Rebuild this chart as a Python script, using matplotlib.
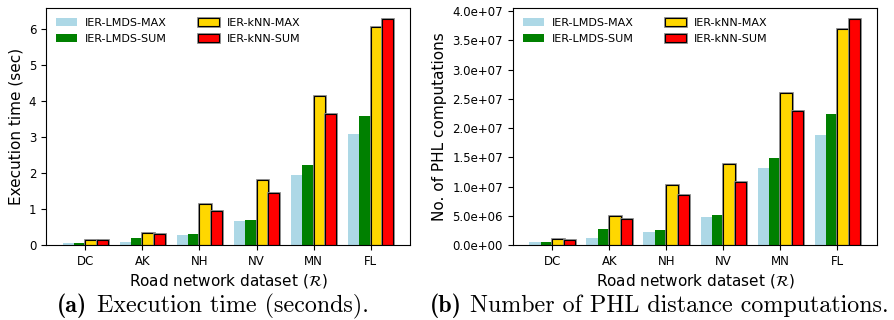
import matplotlib
matplotlib.use("Agg")
import matplotlib.pyplot as plt
import matplotlib.patheffects as pe
import numpy as np

datasets = ["DC", "AK", "NH", "NV", "MN", "FL"]
series_names = ["IER-LMDS-MAX", "IER-LMDS-SUM", "IER-kNN-MAX", "IER-kNN-SUM"]
colors = ["lightblue", "green", "gold", "red"]

time_lmds_max = [0.05, 0.10, 0.27, 0.66, 1.95, 3.09]
time_lmds_sum = [0.07, 0.21, 0.30, 0.71, 2.23, 3.59]
time_knn_max = [0.15, 0.35, 1.15, 1.82, 4.13, 6.06]
time_knn_sum = [0.14, 0.31, 0.96, 1.45, 3.64, 6.27]

phl_lmds_max = [0.45e6, 1.3e6, 2.16e6, 4.89e6, 13.2e6, 18.86e6]
phl_lmds_sum = [0.45e6, 2.67e6, 2.5e6, 5.23e6, 14.9e6, 22.46e6]
phl_knn_max = [1.02e6, 4.94e6, 10.34e6, 13.9e6, 26.06e6, 36.86e6]
phl_knn_sum = [0.91e6, 4.38e6, 8.52e6, 10.85e6, 22.86e6, 38.6e6]

fig = plt.figure(figsize=(8.95, 3.2), dpi=100)
ax1 = fig.add_axes([0.0514, 0.234, 0.4067, 0.741])
ax2 = fig.add_axes([0.573, 0.234, 0.4067, 0.741])

x = np.arange(len(datasets))
w = 0.2
shadow = [pe.Stroke(linewidth=2.0, foreground="#8a8a8a"), pe.Normal()]


def draw(ax, series, ylabel):
    for i, (vals, c, name) in enumerate(zip(series, colors, series_names)):
        if i >= 2:
            bars = ax.bar(x + (i - 1.5) * w, vals, w, color=c, edgecolor="black",
                          linewidth=0.8, label=name)
            for b in bars:
                b.set_path_effects(shadow)
        else:
            ax.bar(x + (i - 1.5) * w, vals, w, color=c, label=name)
    ax.set_xticks(x)
    ax.set_xticklabels(datasets, fontsize=8.5)
    ax.tick_params(axis="y", labelsize=8.5)
    ax.set_xlabel(r"Road network dataset ($\mathcal{R}$)", fontsize=11, labelpad=3)
    ax.set_ylabel(ylabel, fontsize=11)
    ax.legend(ncol=2, frameon=False, loc="upper left", fontsize=8,
              handlelength=1.9, handleheight=0.65, columnspacing=2.8,
              handletextpad=0.7, borderaxespad=0.5, labelspacing=0.55)


draw(ax1, [time_lmds_max, time_lmds_sum, time_knn_max, time_knn_sum],
     "Execution time (sec)")
draw(ax2, [phl_lmds_max, phl_lmds_sum, phl_knn_max, phl_knn_sum],
     "No. of PHL computations")
ax2.yaxis.set_major_formatter(matplotlib.ticker.FormatStrFormatter("%.1e"))

fig.text(0.064, 0.024, "(a)", fontsize=17.3, family="cmb10", ha="left", va="baseline")
fig.text(0.108, 0.024, "Execution time (seconds).", fontsize=17.3, family="cmr10",
         ha="left", va="baseline")
fig.text(0.480, 0.024, "(b)", fontsize=17.3, family="cmb10", ha="left", va="baseline")
fig.text(0.525, 0.024, "Number of PHL distance computations.", fontsize=17.3,
         family="cmr10", ha="left", va="baseline")

fig.savefig("out.png", dpi=100)
